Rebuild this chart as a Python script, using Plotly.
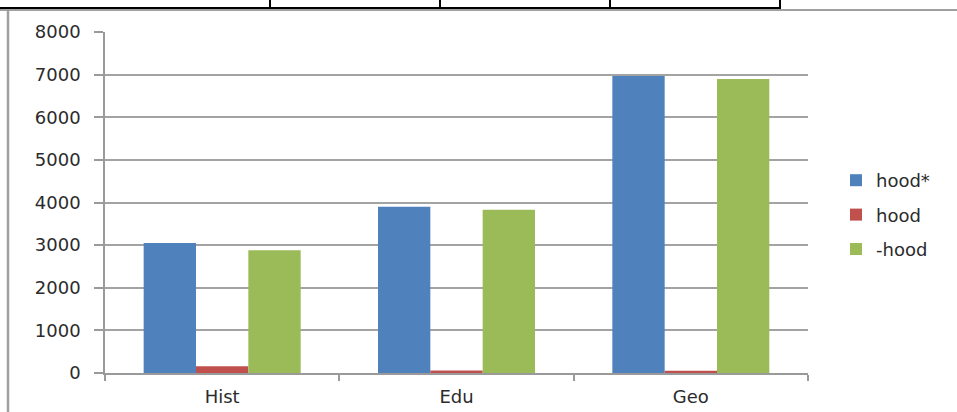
import plotly.graph_objects as go

categories = ["Hist", "Edu", "Geo"]
series_names = ["hood*", "hood", "-hood"]
hood_star = [3050, 3900, 6970]
hood = [160, 60, 50]
minus_hood = [2880, 3830, 6900]
series_values = [hood_star, hood, minus_hood]
colors = ["#4F81BD", "#C0504D", "#9BBB59"]
y_ticks = [0, 1000, 2000, 3000, 4000, 5000, 6000, 7000, 8000]

W, H = 957, 412
L, R, T, B = 105, 149, 32, 39
pw, ph = W - L - R, H - T - B

def px_x(p):
    return (p - L) / pw

def px_y(p):
    return (H - B - p) / ph

fig = go.Figure()
for name, vals, col in zip(series_names, series_values, colors):
    fig.add_trace(go.Bar(
        x=categories, y=vals, name=name, legendgroup=name,
        marker=dict(color=col, line=dict(width=0)),
    ))

axis_gray = "#9a9a9a"
font = dict(family="DejaVu Sans", size=18, color="#2b2b2b")

fig.update_layout(
    width=W, height=H,
    margin=dict(l=L, r=R, t=T, b=B, pad=0, autoexpand=False),
    paper_bgcolor="white", plot_bgcolor="white",
    barmode="group", bargap=0.33, bargroupgap=0,
    font=font,
    showlegend=True,
    legend=dict(
        x=px_x(836), y=px_y(215), xanchor="left", yanchor="middle",
        font=dict(family="DejaVu Sans", size=18, color="#2b2b2b"),
        tracegroupgap=8, bgcolor="rgba(0,0,0,0)",
    ),
    xaxis=dict(
        automargin=False,
        showline=True, linecolor=axis_gray, linewidth=1.5,
        ticks="outside", tickson="boundaries", ticklen=6,
        tickcolor=axis_gray, tickwidth=1.5,
        showgrid=False, ticklabelstandoff=7, mirror=False,
    ),
    yaxis=dict(
        automargin=False,
        range=[0, 8000], tickvals=y_ticks,
        ticktext=[str(v) for v in y_ticks],
        showline=True, linecolor=axis_gray, linewidth=1.5,
        ticks="outside", ticklen=9, tickcolor=axis_gray, tickwidth=1.5,
        showgrid=True, gridcolor="#a3a3a3", gridwidth=1.5,
        zeroline=False, ticklabelstandoff=10,
    ),
)

# frame of the chart object and the table row above it
shapes = [
    dict(type="line", xref="paper", yref="paper",
         x0=px_x(0), x1=px_x(W), y0=px_y(10), y1=px_y(10),
         line=dict(color="#a0a0a0", width=2)),
    dict(type="line", xref="paper", yref="paper",
         x0=px_x(8), x1=px_x(8), y0=px_y(10), y1=px_y(H),
         line=dict(color="#a0a0a0", width=2.5)),
    dict(type="line", xref="paper", yref="paper",
         x0=px_x(0), x1=px_x(781), y0=px_y(8), y1=px_y(8),
         line=dict(color="black", width=2)),
]
for xv in [270, 440, 610, 780]:
    shapes.append(dict(type="line", xref="paper", yref="paper",
                       x0=px_x(xv), x1=px_x(xv), y0=px_y(0), y1=px_y(8),
                       line=dict(color="black", width=2)))
fig.update_layout(shapes=shapes)

fig.write_html("out.html")
